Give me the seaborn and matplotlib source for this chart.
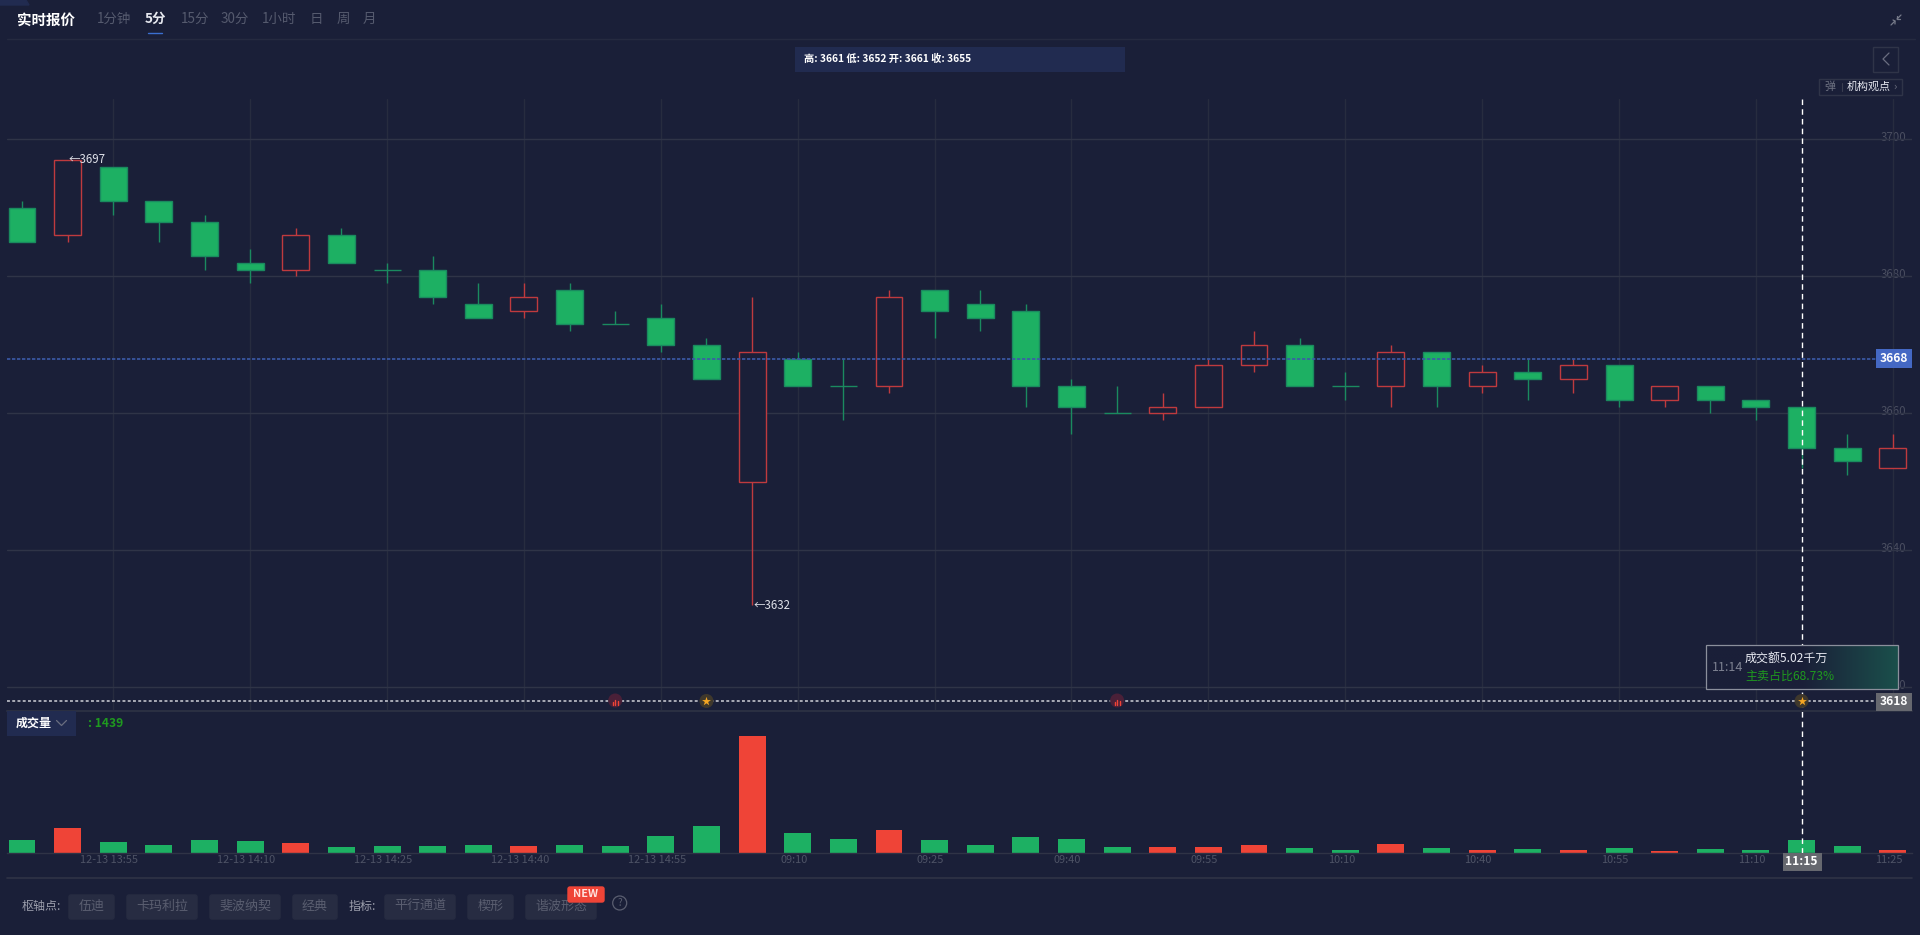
"""K-line chart with volume panel, 5 minute view."""
import numpy as np
import pandas as pd
import matplotlib
matplotlib.use("Agg")
import matplotlib.pyplot as plt
import matplotlib.transforms as mtrans
from matplotlib.colors import LinearSegmentedColormap
from matplotlib.patches import Rectangle, Circle, FancyBboxPatch
import seaborn as sns

# candle values
opens = [3690, 3686, 3696, 3691, 3688, 3682, 3681, 3686, 3681, 3681, 3676, 3675, 3678, 3673,
         3674, 3670, 3650, 3668, 3664, 3664, 3678, 3676, 3675, 3664, 3660, 3660, 3661, 3667,
         3670, 3664, 3664, 3669, 3664, 3666, 3665, 3667, 3662, 3664, 3662, 3661, 3655, 3652]
closes = [3685, 3697, 3691, 3688, 3683, 3681, 3686, 3682, 3681, 3677, 3674, 3677, 3673, 3673,
          3670, 3665, 3669, 3664, 3664, 3677, 3675, 3674, 3664, 3661, 3660, 3661, 3667, 3670,
          3664, 3664, 3669, 3664, 3666, 3665, 3667, 3662, 3664, 3662, 3661, 3655, 3653, 3655]
highs = [3691, 3697, 3696, 3691, 3689, 3684, 3687, 3687, 3682, 3683, 3679, 3679, 3679, 3675,
         3676, 3671, 3677, 3669, 3668, 3678, 3678, 3678, 3676, 3665, 3664, 3663, 3668, 3672,
         3671, 3666, 3670, 3669, 3667, 3668, 3668, 3667, 3664, 3664, 3662, 3661, 3657, 3657]
lows = [3685, 3685, 3689, 3685, 3681, 3679, 3680, 3682, 3679, 3676, 3674, 3674, 3672, 3673,
        3669, 3665, 3632, 3664, 3659, 3663, 3671, 3672, 3661, 3657, 3660, 3659, 3661, 3666,
        3664, 3662, 3661, 3661, 3663, 3662, 3663, 3661, 3661, 3660, 3659, 3652, 3651, 3652]
volumes = [1439, 2767, 1218, 886, 1439, 1328, 1107, 664, 849, 849, 959, 812, 959, 812,
           1919, 2989, 12989, 2251, 1550, 2583, 1476, 959, 1771, 1624, 701, 664, 738, 959,
           554, 406, 996, 627, 332, 517, 332, 554, 221, 443, 406, 1439, 849, 406]

# axis labels
time_ticks = [2, 5, 8, 11, 14, 17, 20, 23, 26, 29, 32, 35, 38, 41]
time_labels = ["12-13 13:55", "12-13 14:10", "12-13 14:25", "12-13 14:40", "12-13 14:55",
               "09:10", "09:25", "09:40", "09:55", "10:10", "10:40", "10:55", "11:10", "11:25"]
price_ticks = [3620, 3640, 3660, 3680, 3700]

# lines and signals
last_price = 3668
cross_price = 3618
cross_idx = 39
red_signals = [13, 24]
gold_signals = [15, 39]

# toolbar text
tabs = ["1分钟", "5分", "15分", "30分", "1小时", "日", "周", "月"]
pivot_buttons = ["伍迪", "卡玛利拉", "斐波纳契", "经典"]
indicator_buttons = ["平行通道", "楔形", "谐波形态"]

BG = "#1a1f38"
PANEL = "#212b50"
GREEN = "#1db063"
GREEN_DARK = "#1a8a5f"
RED_LINE = "#bf3a3e"
RED_BAR = "#ef4437"
TEXT_GREEN = "#1f9a1f"
DIM = "#4e5366"
W, H = 1920, 935


def pt(px):
    return px * 0.72


sns.set_theme(style="dark", rc={"figure.facecolor": BG, "axes.facecolor": BG, "savefig.facecolor": BG})
plt.rcParams["font.family"] = ["Noto Sans CJK SC", "DejaVu Sans"]

df = pd.DataFrame({"idx": np.arange(len(opens)), "open": opens, "close": closes,
                   "high": highs, "low": lows, "vol": volumes})
df["up"] = df["close"] > df["open"]
df["side"] = np.where(df["up"], "up", "down")
down = df[~df["up"]]
up = df[df["up"]]

fig = plt.figure(figsize=(W / 100, H / 100), dpi=100)
left, right = 6.7, 1912
# px per candle is 45.63, first candle center at 22
xlim = ((left - 22.0) / 45.63, (right - 22.0) / 45.63)

ax = fig.add_axes([left / W, (H - 710.7) / H, (right - left) / W, (710.7 - 99) / H])
ax_vol = fig.add_axes([left / W, (H - 853.3) / H, (right - left) / W, (853.3 - 715) / H])
top = fig.add_axes([0, 0, 1, 1], facecolor="none")

# price panel
ax.vlines(down["idx"], down["low"], down["high"], color=GREEN_DARK, lw=1, zorder=2)
ax.vlines(up["idx"], up["low"], up["high"], color=RED_LINE, lw=1, zorder=2)
ax.bar(down["idx"], down["open"] - down["close"], bottom=down["close"], width=0.59,
       color=GREEN, edgecolor=GREEN_DARK, lw=1, zorder=3)
ax.bar(up["idx"], up["close"] - up["open"], bottom=up["open"], width=0.59,
       color=BG, edgecolor=RED_LINE, lw=1, zorder=3)
ax.set_xlim(xlim)
ax.set_ylim(3616.6, 3705.9)
ax.set_xticks(time_ticks)
ax.set_yticks(price_ticks)
ax.set_xticklabels([])
ax.grid(False)
for t in time_ticks:
    ax.axvline(t, color="#272c3f", lw=1, zorder=1)
for p in price_ticks:
    ax.axhline(p, color="#2f3447", lw=1, zorder=1)
ax.tick_params(axis="x", length=0)
ax.tick_params(axis="y", length=0, labelleft=False, labelright=True, pad=pt(-31),
               labelsize=pt(11.5), labelcolor="#4a4e60")
lift = mtrans.ScaledTranslation(0, 3 / 100, fig.dpi_scale_trans)
for lab in ax.get_yticklabels():
    lab.set_transform(lab.get_transform() + lift)
for s in ax.spines.values():
    s.set_visible(False)

hi = df.loc[df["high"].idxmax()]
lo = df.loc[df["low"].idxmin()]
ax.annotate(f"←{hi['high']}", (hi["idx"], hi["high"]), xytext=(pt(1), 0), textcoords="offset points",
            color="#e0e2ea", fontsize=pt(11.5), va="center", zorder=5)
ax.annotate(f"←{lo['low']}", (lo["idx"], lo["low"]), xytext=(pt(2), 0), textcoords="offset points",
            color="#e0e2ea", fontsize=pt(11.5), va="center", zorder=5)

# volume panel
sns.barplot(data=df, x="idx", y="vol", hue="side", hue_order=["down", "up"],
            palette={"down": GREEN, "up": RED_BAR}, native_scale=True, dodge=False, width=0.59,
            saturation=1, errorbar=None, legend=False, linewidth=0, ax=ax_vol)
ax_vol.set_xlim(xlim)
ax_vol.set_ylim(0, 15310)
ax_vol.set_xlabel("")
ax_vol.set_ylabel("")
ax_vol.set_yticks([])
ax_vol.set_xticks(time_ticks)
ax_vol.set_xticklabels(time_labels)
ax_vol.tick_params(axis="x", length=0, pad=pt(2), labelsize=pt(11), labelcolor=DIM)
ax_vol.grid(False)
shift = mtrans.ScaledTranslation(-4 / 100, 0, fig.dpi_scale_trans)
for lab in ax_vol.get_xticklabels():
    lab.set_transform(lab.get_transform() + shift)
sns.despine(ax=ax_vol, left=True)
ax_vol.spines["bottom"].set_color("#2f3346")
ax_vol.spines["bottom"].set_linewidth(1)
ax_vol.patch.set_alpha(0)

# overlay chrome in pixel coordinates
top.set_xlim(0, W)
top.set_ylim(H, 0)
top.axis("off")


def px_x(i):
    return 22.0 + i * 45.63


def px_y(p):
    return 139.3 + (3700 - p) * 6.85


def box(x0, y0, x1, y1, fc, ec="none", lw=0, z=2):
    top.add_patch(Rectangle((x0, y0), x1 - x0, y1 - y0, fc=fc, ec=ec, lw=lw, zorder=z))


def label(x, y, s, color="#ffffff", px=12, ha="left", bold=False, z=6):
    top.text(x, y, s, color=color, fontsize=pt(px), ha=ha, va="center",
             fontweight="bold" if bold else "normal", zorder=z)


top.fill([0, 26, 29, 0], [0, 0, 5, 5], color=PANEL, zorder=1)
top.plot([7, 1915], [39.3, 39.3], color="#252a40", lw=1)
top.plot([left, right], [878.3, 878.3], color="#2f3346", lw=1.2)
top.plot([left, 1912], [710.7, 710.7], color="#2a2f42", lw=1.5)

label(17, 20.5, "实时报价", px=14.5, bold=True)
tab_x = [114, 155, 195, 235, 279, 316, 343, 369]
for x, s in zip(tab_x, tabs):
    if s == "5分":
        label(x, 18.5, s, color="#e6e8ef", px=13.5, ha="center", bold=True)
    else:
        label(x, 18.5, s, color="#555a6e", px=13.5, ha="center")
top.plot([148, 162], [32.7, 32.7], color="#3b6fd0", lw=1)
# shrink icon
top.plot([1891, 1895], [25, 21], color="#777b8a", lw=0.9)
top.plot([1897, 1901], [19, 15], color="#777b8a", lw=0.9)
top.plot([1893, 1895, 1895], [20, 21, 24], color="#777b8a", lw=0.9)
top.plot([1897, 1897, 1900], [16, 19, 19], color="#777b8a", lw=0.9)

box(795, 47, 1124.7, 71.7, PANEL)
label(804, 59, "高: 3661 低: 3652 开: 3661 收: 3655", px=10.2, bold=True)

box(1873, 47, 1897.5, 71.6, "none", ec="#2f3448", lw=1)
top.plot([1889, 1883, 1889], [53, 59, 65], color="#6a6e80", lw=0.9)
box(1819, 79, 1901.7, 94.7, BG, ec="#2f3448", lw=1)
label(1824, 87, "弹", color="#6e7282", px=11)
top.plot([1841.5, 1841.5], [83, 91], color="#3a3e50", lw=0.8)
label(1847, 87, "机构观点", color="#e8eaf2", px=11)
label(1893, 87, "›", color="#6e7282", px=11)

# last price and cross lines
top.plot([left, 1876], [px_y(last_price)] * 2, color="#3b5aa8", lw=1.2, ls=(0, (2, 1)), zorder=3)
box(1876, 349.3, 1912, 367.7, "#4468c4", z=5)
label(1894, 358.2, str(last_price), px=12, ha="center", bold=True)

top.plot([left, 1876], [px_y(cross_price)] * 2, color="#a9abb6", lw=1.4, ls=(0, (1.5, 1.2)), zorder=3)
box(1876, 693, 1912, 710.7, "#66686f", z=5)
label(1894, 701.7, str(cross_price), px=12, ha="center", bold=True)

cross_x = px_x(cross_idx)
top.plot([cross_x, cross_x], [99, 853], color="#ffffff", lw=1, ls=(0, (4, 3)), zorder=3)
box(1783, 853.3, 1822, 870.7, "#66686f", z=5)
label(cross_x, 861.5, "11:15", px=12, ha="center", bold=True)

# signal dots on the cross line
for i in red_signals:
    top.add_patch(Circle((px_x(i), 700.5), 7, fc="#4a2038", ec="none", zorder=4))
    for dx, h in zip([-2.5, 0, 2.5], [3, 5, 4]):
        top.plot([px_x(i) + dx] * 2, [705, 705 - h], color="#ef4437", lw=1, zorder=5)
for i in gold_signals:
    top.add_patch(Circle((px_x(i), 701), 7, fc="#3f382c", ec="none", zorder=4))
    top.scatter([px_x(i)], [701], marker="*", s=45, color="#f5a623", linewidths=0, zorder=5)

# tooltip
grad = LinearSegmentedColormap.from_list("tip", [BG, BG, "#1b4f4b"], N=128)
top.imshow(np.linspace(0, 1, 128).reshape(1, -1), cmap=grad, extent=(1706.3, 1898.3, 689.3, 645.3),
           aspect="auto", zorder=7)
top.set_xlim(0, W)
top.set_ylim(H, 0)
box(1706.3, 645.3, 1898.3, 689.3, "none", ec="#8b8f9c", lw=0.9, z=8)
label(1712, 667.7, "11:14", color="#7d8191", px=12.5, z=9)
label(1745, 658.7, "成交额5.02千万", color="#e8eaf2", px=12, z=9)
label(1745, 676, "主卖占比68.73%", color=TEXT_GREEN, px=12, z=9)

# volume selector
box(6.7, 711, 76, 735.7, PANEL)
label(16, 723, "成交量", px=12, bold=True)
top.plot([56.5, 61.5, 66.5], [720.5, 725.5, 720.5], color="#6a6e80", lw=0.9)
label(87.5, 723.7, f": {volumes[cross_idx]}", color=TEXT_GREEN, px=12, bold=True)

# bottom toolbar
label(22, 906.7, "枢轴点:", color="#9a9dab", px=12)
label(349, 906.7, "指标:", color="#9a9dab", px=12)
pivot_pos = [(68, 115), (126, 198), (209, 281), (292, 338)]
indicator_pos = [(384, 456), (467, 514), (525, 597)]
for (x0, x1), s in zip(pivot_pos + indicator_pos, pivot_buttons + indicator_buttons):
    top.add_patch(FancyBboxPatch((x0 + 1, 895), x1 - x0 - 2, 24, boxstyle="round,pad=0,rounding_size=2",
                                 fc="#272c42", ec="#272c42", lw=1, zorder=2))
    label((x0 + x1) / 2, 906.7, s, color="#5a5e70", px=13, ha="center")
top.add_patch(FancyBboxPatch((568, 887), 36, 15, boxstyle="round,pad=0,rounding_size=2",
                             fc=RED_BAR, ec=RED_BAR, lw=1, zorder=7))
label(586, 894.2, "NEW", px=11, ha="center", bold=True, z=8, color="#ffe3df")
top.add_patch(Circle((619.7, 903), 7, fc="none", ec="#5a5e70", lw=0.9, zorder=3))
label(619.7, 903, "?", color="#5a5e70", px=10, ha="center")

fig.savefig("out.png", dpi=100, facecolor=BG)
